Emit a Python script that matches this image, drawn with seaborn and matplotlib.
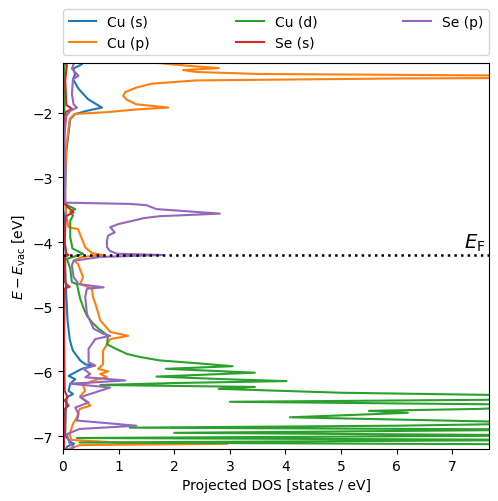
import pandas as pd
import matplotlib
matplotlib.use("Agg")
import matplotlib.pyplot as plt
import seaborn as sns

orbitals = ["Cu (s)", "Cu (p)", "Cu (d)", "Se (s)", "Se (p)"]
fermi_level = -4.2

# projected DOS, energies in eV (descending)
cu_s_energy = [-1.23, -1.25, -1.32, -1.40, -1.48, -1.63, -1.79, -1.92, -1.97, -2.02,
               -2.10, -2.60, -3.20, -3.40, -3.44, -3.50, -3.60, -4.00, -4.18, -4.20,
               -4.23, -4.40, -4.85, -5.00, -5.20, -5.50, -5.60, -5.68, -5.75, -5.83,
               -5.89, -5.91, -5.96, -6.00, -6.07, -6.12, -6.19, -6.30, -6.35, -6.40,
               -6.60, -7.00, -7.10, -7.12, -7.16, -7.20]
cu_s_dos = [0.33, 0.34, 0.18, 0.22, 0.18, 0.28, 0.45, 0.70, 0.43, 0.22,
            0.13, 0.06, 0.04, 0.04, 0.07, 0.05, 0.03, 0.03, 0.05, 0.08,
            0.04, 0.04, 0.06, 0.07, 0.08, 0.12, 0.15, 0.18, 0.24, 0.31,
            0.40, 0.54, 0.34, 0.25, 0.10, 0.22, 0.13, 0.10, 0.18, 0.07,
            0.05, 0.04, 0.15, 0.20, 0.08, 0.05]

cu_p_energy = [-1.23, -1.27, -1.31, -1.34, -1.37, -1.40, -1.43, -1.45, -1.47, -1.50,
               -1.55, -1.61, -1.68, -1.74, -1.80, -1.87, -1.92, -1.95, -1.99, -2.02,
               -2.10, -2.50, -3.00, -3.40, -3.60, -3.77, -3.80, -4.08, -4.17, -4.20,
               -4.23, -4.28, -4.34, -4.54, -4.65, -4.72, -4.85, -5.00, -5.21, -5.39,
               -5.45, -5.50, -5.68, -5.89, -5.96, -6.00, -6.04, -6.09, -6.12, -6.16,
               -6.22, -6.30, -6.38, -6.53, -6.58, -6.71, -6.81, -6.97, -7.06, -7.10,
               -7.12, -7.14, -7.20]
cu_p_dos = [1.70, 2.20, 2.80, 2.16, 2.40, 3.50, 9.00, 12.0, 6.00, 2.40,
            1.60, 1.32, 1.12, 1.08, 1.15, 1.32, 1.89, 1.30, 0.80, 0.20,
            0.12, 0.06, 0.04, 0.04, 0.06, 0.10, 0.27, 0.40, 0.52, 0.72,
            0.35, 0.20, 0.27, 0.36, 0.31, 0.52, 0.54, 0.60, 0.67, 0.85,
            1.17, 0.85, 0.72, 0.72, 0.63, 0.81, 0.67, 0.79, 0.63, 0.49,
            0.36, 0.40, 0.31, 0.49, 0.30, 0.25, 0.18, 0.12, 0.15, 1.00,
            2.95, 0.30, 0.10]

cu_d_energy = [-1.23, -3.40, -3.44, -3.49, -3.53, -3.59, -3.67, -3.92, -4.10, -4.18,
               -4.21, -4.26, -4.41, -4.62, -4.65, -4.88, -5.00, -5.14, -5.25, -5.34,
               -5.45, -5.58, -5.65, -5.73, -5.78, -5.83, -5.88, -5.92, -5.96, -6.02,
               -6.08, -6.12, -6.15, -6.18, -6.21, -6.24, -6.27, -6.33, -6.38, -6.43,
               -6.47, -6.52, -6.58, -6.61, -6.64, -6.68, -6.71, -6.75, -6.80, -6.84,
               -6.87, -6.90, -6.95, -6.99, -7.03, -7.06, -7.10, -7.13, -7.17, -7.20]
cu_d_dos = [0.03, 0.02, 0.10, 0.22, 0.13, 0.18, 0.13, 0.13, 0.17, 0.36,
            0.25, 0.07, 0.13, 0.16, 0.25, 0.31, 0.36, 0.43, 0.53, 0.64,
            0.81, 0.79, 0.95, 1.15, 1.40, 1.74, 2.50, 3.05, 1.85, 3.45,
            1.68, 2.90, 4.02, 2.00, 0.67, 3.45, 2.80, 5.00, 9.00, 9.00,
            3.00, 9.00, 7.50, 5.50, 6.20, 5.00, 4.08, 6.30, 9.00, 6.00,
            1.20, 9.00, 2.00, 9.00, 0.25, 9.00, 0.30, 9.00, 9.00, 9.00]

se_s_energy = [-1.23, -1.27, -1.50, -1.88, -1.94, -1.99, -2.30, -3.40, -3.46, -3.54,
               -3.60, -4.00, -4.18, -4.20, -4.23, -4.60, -4.67, -4.69, -4.72, -5.50,
               -6.30, -6.40, -6.45, -6.53, -6.58, -7.00, -7.20]
se_s_dos = [0.05, 0.07, 0.04, 0.06, 0.16, 0.05, 0.02, 0.02, 0.09, 0.19,
            0.05, 0.03, 0.06, 0.10, 0.03, 0.02, 0.08, 0.12, 0.03, 0.02,
            0.03, 0.08, 0.03, 0.10, 0.03, 0.02, 0.02]

se_p_energy = [-1.23, -1.25, -1.32, -1.43, -1.48, -1.71, -1.87, -1.92, -1.97, -2.05,
               -2.40, -3.39, -3.41, -3.43, -3.49, -3.56, -3.60, -3.63, -3.67, -3.72,
               -3.77, -3.85, -3.90, -3.98, -4.08, -4.14, -4.18, -4.20, -4.23, -4.29,
               -4.36, -4.54, -4.65, -4.70, -4.72, -4.85, -5.11, -5.34, -5.42, -5.45,
               -5.50, -5.65, -5.86, -5.91, -5.96, -6.04, -6.09, -6.14, -6.17, -6.19,
               -6.25, -6.29, -6.40, -6.48, -6.56, -6.66, -6.76, -6.84, -6.89, -6.97,
               -7.12, -7.17, -7.20]
se_p_dos = [0.20, 0.19, 0.16, 0.28, 0.18, 0.16, 0.19, 0.25, 0.13, 0.06,
            0.02, 0.02, 1.20, 1.50, 1.68, 2.82, 1.74, 1.45, 1.26, 1.00,
            0.85, 0.93, 0.81, 0.79, 0.79, 0.85, 0.97, 1.80, 0.67, 0.19,
            0.16, 0.19, 0.28, 0.73, 0.43, 0.40, 0.43, 0.55, 0.73, 0.85,
            0.58, 0.46, 0.46, 0.58, 0.37, 0.49, 0.40, 1.12, 0.55, 0.13,
            0.85, 0.70, 0.31, 0.46, 0.22, 0.28, 0.25, 1.32, 0.30, 0.07,
            0.12, 0.20, 0.15]


def build_frame():
    series = [
        (cu_s_energy, cu_s_dos),
        (cu_p_energy, cu_p_dos),
        (cu_d_energy, cu_d_dos),
        (se_s_energy, se_s_dos),
        (se_p_energy, se_p_dos),
    ]
    frames = []
    for name, (energy, dos) in zip(orbitals, series):
        frames.append(pd.DataFrame({"energy": energy, "dos": dos, "orbital": name}))
    return pd.concat(frames, ignore_index=True)


df = build_frame()

fig = plt.figure(figsize=(4.98, 5.02), dpi=100)
ax = fig.add_axes([0.1265, 0.1036, 0.8555, 0.769])

sns.lineplot(data=df, x="dos", y="energy", hue="orbital", hue_order=orbitals,
             sort=False, estimator=None, linewidth=1.5, ax=ax)

ax.axhline(fermi_level, color="k", linestyle=":", linewidth=1.8)
ax.text(7.6, fermi_level + 0.03, r"$E_\mathrm{F}$", ha="right", va="bottom", fontsize=14)

ax.set_xlim(0, 7.66)
ax.set_ylim(-7.2, -1.23)
ax.set_xlabel("Projected DOS [states / eV]")
ax.set_ylabel(r"$E - E_\mathrm{vac}$ [eV]")

handles, labels = ax.get_legend_handles_labels()
ax.legend(handles, labels, loc="lower left", bbox_to_anchor=(0, 1.02, 1, 0.102),
          ncol=3, mode="expand", borderaxespad=0)

fig.savefig("out.png", dpi=100)
